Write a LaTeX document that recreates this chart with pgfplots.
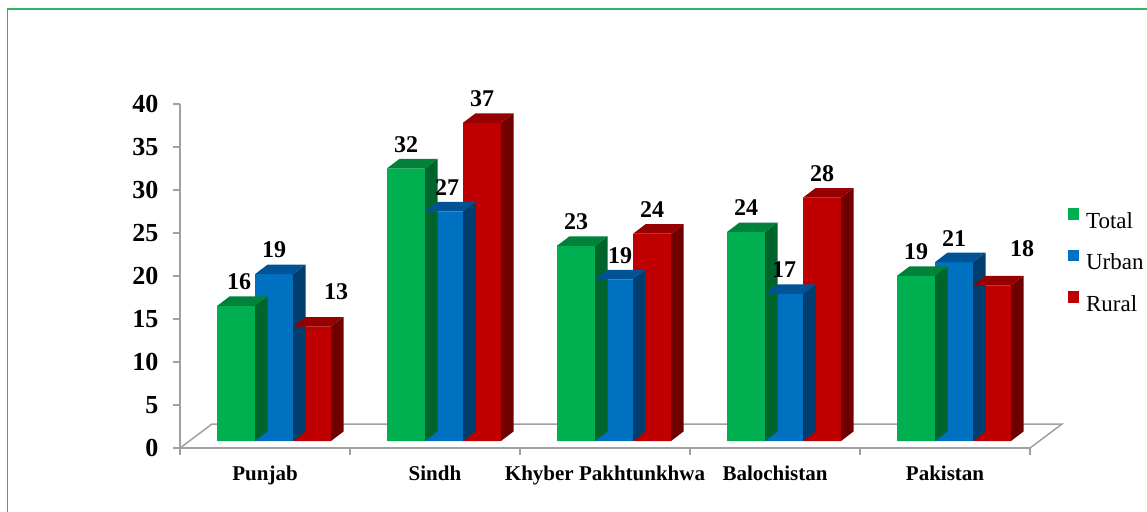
\documentclass[border=0pt]{standalone}
\usepackage{pgfplots}
\usepackage{pgfplotstable}
\pgfplotsset{compat=1.18}
\usepackage{fontspec}
\setmainfont{Liberation Serif}

\definecolor{gT}{RGB}{0,176,80}
\definecolor{gTtop}{RGB}{0,130,58}
\definecolor{gTside}{RGB}{0,100,45}
\definecolor{bU}{RGB}{0,112,192}
\definecolor{bUtop}{RGB}{0,84,150}
\definecolor{bUside}{RGB}{0,62,112}
\definecolor{rR}{RGB}{192,0,0}
\definecolor{rRtop}{RGB}{150,0,0}
\definecolor{rRside}{RGB}{112,0,0}
\definecolor{axgray}{RGB}{160,160,160}
\definecolor{frame}{RGB}{50,180,100}

\newdimen\barH
% 3D cap and side face of a bar: #1 name, #2 centre offset (pt), #3 top colour, #4 side colour
\newcommand\declarecap[4]{%
  \pgfdeclareplotmark{#1}{%
    \pgfmathsetlength\barH{\ry*8.6pt}%
    \pgfsetfillcolor{#4}%
    \pgfpathmoveto{\pgfpoint{#2+19pt}{7pt}}%
    \pgfpathlineto{\pgfpoint{#2+31.5pt}{16.5pt}}%
    \pgfpathlineto{\pgfpoint{#2+31.5pt}{16.5pt-\barH}}%
    \pgfpathlineto{\pgfpoint{#2+19pt}{7pt-\barH}}%
    \pgfpathclose
    \pgfusepath{fill}%
    \pgfsetfillcolor{#3}%
    \pgfpathmoveto{\pgfpoint{#2-19pt}{7pt}}%
    \pgfpathlineto{\pgfpoint{#2+19pt}{7pt}}%
    \pgfpathlineto{\pgfpoint{#2+31.5pt}{16.5pt}}%
    \pgfpathlineto{\pgfpoint{#2-6.5pt}{16.5pt}}%
    \pgfpathclose
    \pgfusepath{fill}%
  }}
\declarecap{capT}{-29pt}{gTtop}{gTside}
\declarecap{capU}{9pt}{bUtop}{bUside}
\declarecap{capR}{47pt}{rRtop}{rRside}

\pgfplotstableread{
x y lx ly
0 15.7 3 0
1 31.7 0 0
2 22.7 0 0
3 24.3 0 0
4 19.2 0 0
}\total
\pgfplotstableread{
x y lx ly
0 19.4 0 0
1 26.7 3 0
2 18.8 6 0
3 17.1 0 0
4 20.8 0 0
}\urban
\pgfplotstableread{
x y lx ly
0 13.3 24 11
1 37.0 0 0
2 24.1 0 0
3 28.3 0 0
4 18.1 30 13
}\rural

\begin{document}
\begin{tikzpicture}
\useasboundingbox (0,0) rectangle (1147pt,511pt);
\draw[frame, line width=1.5pt] (7.5pt,-10pt) -- (7.5pt,502pt) -- (1160pt,502pt);
\begin{axis}[
  at={(180pt,63pt)}, anchor=south west,
  scale only axis, width=850pt, height=344pt,
  xmin=-0.5, xmax=4.5, ymin=0, ymax=40,
  clip=false,
  axis x line=bottom, axis y line=left,
  axis line style={-, axgray, line width=1.5pt},
  tick align=outside,
  /pgf/number format/assume math mode=true,
  xtick={0,1,2,3,4},
  xticklabels={Punjab,Sindh,Khyber Pakhtunkhwa,Balochistan,Pakistan},
  major x tick style={draw=none},
  minor xtick={-0.5,0.5,1.5,2.5,3.5,4.5},
  minor x tick style={axgray, line width=1.5pt},
  minor tick length=7pt,
  xticklabel style={font=\fontsize{21}{21}\selectfont\bfseries, yshift=-7pt},
  ytick={0,5,...,40},
  yticklabels={0,5,10,15,20,25,30,35,40},
  major y tick style={axgray, line width=1.5pt},
  major tick length=7pt,
  yticklabel style={font=\fontsize{26}{26}\selectfont\bfseries, xshift=-11pt},
  legend style={at={(1.044,0.697)}, anchor=north west, draw=none, fill=none,
    font=\fontsize{23}{23}\selectfont, row sep=18pt, inner sep=0pt,
    /tikz/every odd column/.append style={column sep=5pt}},
  legend cell align=left,
  legend image code/.code={\fill[#1] (0pt,-5.75pt) rectangle (11.5pt,5.75pt);},
]
% floor
\draw[axgray, line width=1.5pt] (axis cs:-0.5,0) -- ([shift={(32pt,24pt)}]axis cs:-0.5,0)
  -- ([shift={(32pt,24pt)}]axis cs:4.5,0) -- (axis cs:4.5,0);
% depth faces
\addplot[forget plot, scatter, only marks, mark=capT, scatter/use mapped color={draw=none,fill=none},
  visualization depends on={rawy \as \ry}] table[x=x,y=y]{\total};
\addplot[forget plot, scatter, only marks, mark=capU, scatter/use mapped color={draw=none,fill=none},
  visualization depends on={rawy \as \ry}] table[x=x,y=y]{\urban};
\addplot[forget plot, scatter, only marks, mark=capR, scatter/use mapped color={draw=none,fill=none},
  visualization depends on={rawy \as \ry}] table[x=x,y=y]{\rural};
% front faces
\pgfplotsset{frontbar/.style={ybar, bar width=38pt, draw=none, yshift=7pt, bar shift=#1,
  nodes near coords={\pgfmathprintnumber[fixed,precision=0]{\pgfplotspointmeta}},
  visualization depends on={\thisrow{lx} \as \lx},
  visualization depends on={\thisrow{ly} \as \ly},
  every node near coord/.append style={font=\fontsize{24}{24}\selectfont\bfseries, black,
    anchor=center, xshift=\lx pt+#1, yshift=24pt+\ly pt}}}
\addplot[frontbar=-29pt, fill=gT] table[x=x,y=y]{\total};
\addplot[frontbar=9pt, fill=bU] table[x=x,y=y]{\urban};
\addplot[frontbar=47pt, fill=rR] table[x=x,y=y]{\rural};
\legend{Total,Urban,Rural}
\end{axis}
\end{tikzpicture}
\end{document}
